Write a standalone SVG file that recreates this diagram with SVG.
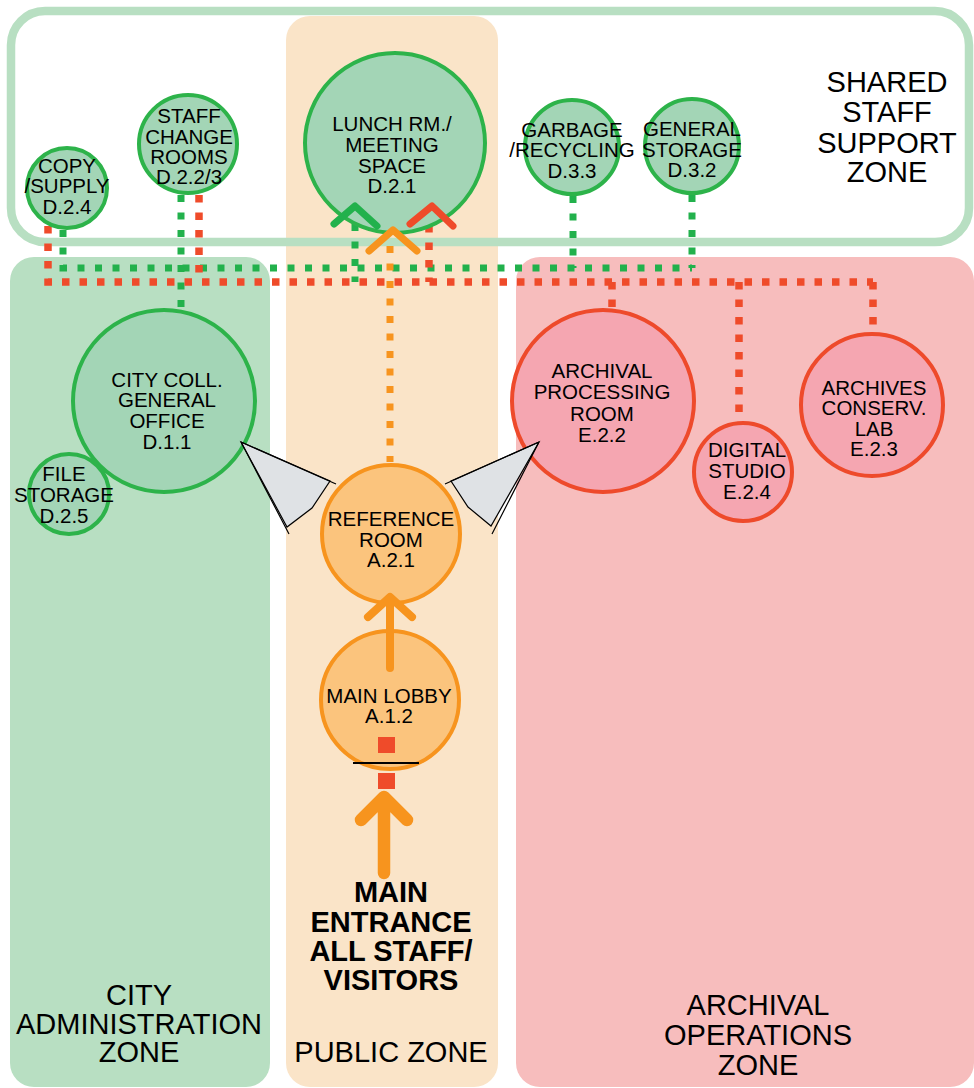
<svg xmlns="http://www.w3.org/2000/svg" width="974" height="1088" viewBox="0 0 974 1088">
<style>
text{font-family:"Liberation Sans",Arial,sans-serif;fill:#000;text-anchor:middle}
.n{font-size:20.5px}
.z{font-size:29px}
.b{font-size:29px;font-weight:bold}
.g{fill:#a3d5b6;stroke:#2db34a;stroke-width:4}
.o{fill:#fbc47d;stroke:#f7941e;stroke-width:4}
.r{fill:#f5a6b1;stroke:#ee4a2b;stroke-width:4}
.dg{fill:none;stroke:#22b14c;stroke-width:7;stroke-dasharray:7 10.5}
.dr{fill:none;stroke:#ef4b2a;stroke-width:7.5;stroke-dasharray:7.5 10}
.do{fill:none;stroke:#f7941e;stroke-width:7;stroke-dasharray:7 10.5}
.cv{fill:none;stroke-linecap:round;stroke-linejoin:round}
.cone{fill:#dfe2e5;stroke:#000;stroke-width:1.2}
</style>
<g id="zones">
<rect x="10" y="257" width="260" height="830" rx="24" fill="#b8dfc2"/>
<rect x="286" y="16" width="212" height="1071" rx="24" fill="#fae4c8"/>
<rect x="516" y="257" width="458" height="830" rx="24" fill="#f7bdbd"/>
<rect id="shared-zone" x="11" y="11" width="958" height="231" rx="34" fill="none" stroke="#b8dfc2" stroke-width="8.5"/>
<text class="z" x="887" y="92">SHARED</text>
<text class="z" x="887" y="122">STAFF</text>
<text class="z" x="887" y="153">SUPPORT</text>
<text class="z" x="887" y="182">ZONE</text>
<text class="z" x="139" y="1005">CITY</text>
<text class="z" x="139" y="1034">ADMINISTRATION</text>
<text class="z" x="139" y="1062">ZONE</text>
<text class="z" x="391" y="1062">PUBLIC ZONE</text>
<text class="z" x="758" y="1015">ARCHIVAL</text>
<text class="z" x="758" y="1045">OPERATIONS</text>
<text class="z" x="758" y="1075">ZONE</text>
</g>
<g id="connectors">
<path class="dg" d="M63,230 V268 H692"/>
<path class="dg" d="M181,195 V310"/>
<path class="dg" d="M355,224 V282"/>
<path class="dg" d="M573,196 V268"/>
<path class="dg" d="M692,195 V268"/>
<path class="dr" d="M48,226 V282 H873"/>
<path class="dr" d="M199,195 V282"/>
<path class="dr" d="M429,225 V282"/>
<path class="dr" d="M612,282 V309"/>
<path class="dr" d="M739,282 V422"/>
<path class="dr" d="M873,282 V333"/>
<path class="do" d="M390,246 V462"/>
</g>
<g id="node-copy"><circle class="g" cx="67" cy="188" r="40"/>
<text class="n" x="67" y="173">COPY</text><text class="n" x="67" y="193">/SUPPLY</text><text class="n" x="67" y="214">D.2.4</text></g>
<g id="node-staff"><circle class="g" cx="188" cy="144" r="49"/>
<text class="n" x="189" y="123">STAFF</text><text class="n" x="189" y="144">CHANGE</text><text class="n" x="189" y="164">ROOMS</text><text class="n" x="189" y="184">D.2.2/3</text></g>
<g id="node-lunch"><circle class="g" cx="395" cy="143" r="90"/>
<text class="n" x="392" y="131">LUNCH RM./</text><text class="n" x="392" y="152">MEETING</text><text class="n" x="392" y="173">SPACE</text><text class="n" x="392" y="193">D.2.1</text></g>
<g id="node-garbage"><circle class="g" cx="572" cy="147" r="47"/>
<text class="n" x="572" y="137">GARBAGE</text><text class="n" x="572" y="157">/RECYCLING</text><text class="n" x="572" y="178">D.3.3</text></g>
<g id="node-general-storage"><circle class="g" cx="692" cy="146" r="47"/>
<text class="n" x="692" y="136">GENERAL</text><text class="n" x="692" y="157">STORAGE</text><text class="n" x="692" y="177">D.3.2</text></g>
<g id="node-city-office"><circle class="g" cx="164" cy="401" r="91"/>
<text class="n" x="167" y="387">CITY COLL.</text><text class="n" x="167" y="407">GENERAL</text><text class="n" x="167" y="428">OFFICE</text><text class="n" x="167" y="449">D.1.1</text></g>
<g id="node-file"><circle class="g" cx="69" cy="494" r="40"/>
<text class="n" x="64" y="481">FILE</text><text class="n" x="64" y="502">STORAGE</text><text class="n" x="64" y="523">D.2.5</text></g>
<g id="node-reference"><circle class="o" cx="391" cy="534" r="69"/>
<text class="n" x="391" y="526">REFERENCE</text><text class="n" x="391" y="547">ROOM</text><text class="n" x="391" y="567">A.2.1</text></g>
<g id="node-lobby"><circle class="o" cx="390" cy="700" r="69"/>
<text class="n" x="389" y="703">MAIN LOBBY</text><text class="n" x="389" y="723">A.1.2</text></g>
<g id="node-processing"><circle class="r" cx="603" cy="401" r="91"/>
<text class="n" x="602" y="378">ARCHIVAL</text><text class="n" x="602" y="399">PROCESSING</text><text class="n" x="602" y="421">ROOM</text><text class="n" x="602" y="442">E.2.2</text></g>
<g id="node-digital"><circle class="r" cx="743" cy="472" r="49"/>
<text class="n" x="747" y="457">DIGITAL</text><text class="n" x="747" y="478">STUDIO</text><text class="n" x="747" y="499">E.2.4</text></g>
<g id="node-conserv"><circle class="r" cx="872" cy="405" r="71"/>
<text class="n" x="874" y="395">ARCHIVES</text><text class="n" x="874" y="415">CONSERV.</text><text class="n" x="874" y="436">LAB</text><text class="n" x="874" y="456">E.2.3</text></g>
<g id="arrows">
<path class="cv" d="M334,224 L355,206 L377,226" stroke="#22b14c" stroke-width="7"/>
<path class="cv" d="M410,224 L432,206 L453,226" stroke="#ef4b2a" stroke-width="7"/>
<path class="cv" d="M369,251 L393,230 L417,251" stroke="#f7941e" stroke-width="7"/>
<path class="cv" d="M390,668 V599 M368,617 L390,597 L412,617" stroke="#f7941e" stroke-width="8"/>
<path class="cv" d="M384,873 V800 M361,820 L384,797 L407,820" stroke="#f7941e" stroke-width="12.5"/>
<rect x="378" y="737" width="17" height="16" fill="#ef4b2a"/>
<rect x="378" y="773" width="17" height="16" fill="#ef4b2a"/>
<line x1="353" y1="763" x2="419" y2="763" stroke="#000" stroke-width="2"/>
</g>
<g id="view-cones">
<polygon class="cone" points="241,442 330,481 312,508 287,527"/>
<path d="M241,442 L336,484 M241,442 L289,534" stroke="#000" stroke-width="1.2" fill="none"/>
<polygon class="cone" points="539,442 451,481 468,507 491,526"/>
<path d="M539,442 L445,484 M539,442 L492,534" stroke="#000" stroke-width="1.2" fill="none"/>
</g>
<g id="entrance-label">
<text class="b" x="391" y="902">MAIN</text>
<text class="b" x="391" y="932">ENTRANCE</text>
<text class="b" x="391" y="961">ALL STAFF/</text>
<text class="b" x="391" y="990">VISITORS</text>
</g>
</svg>
